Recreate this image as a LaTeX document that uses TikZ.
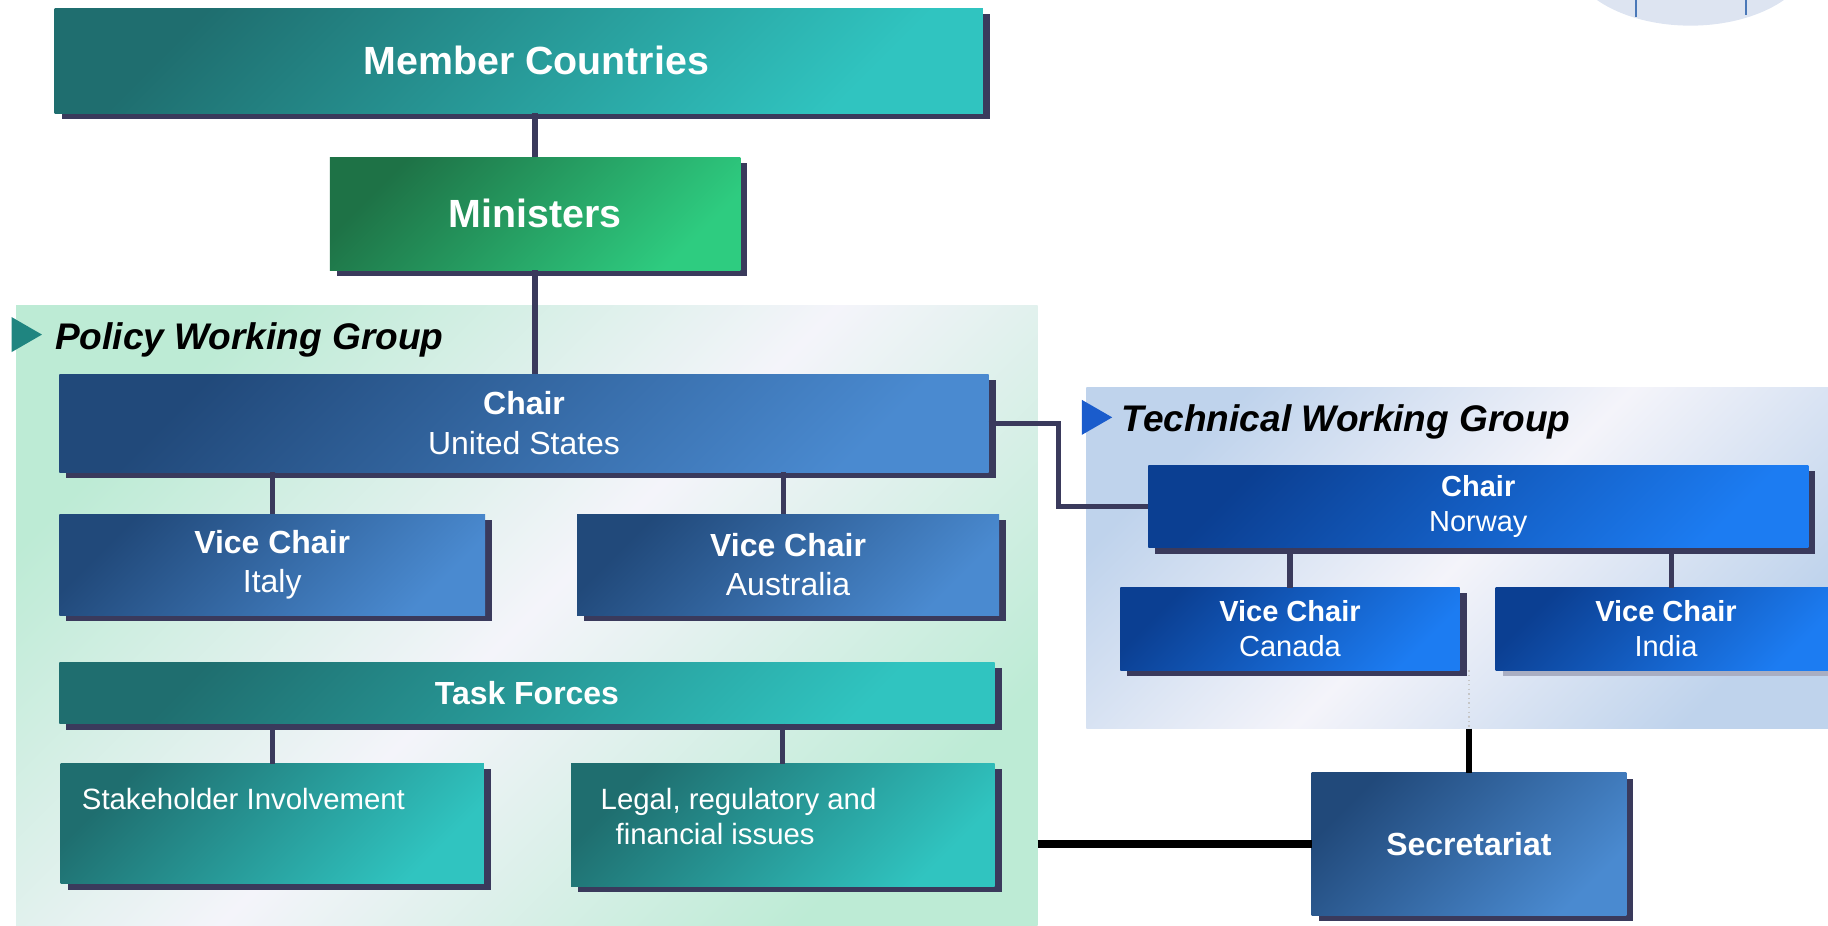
\documentclass[tikz,border=0pt]{standalone}
\usepackage{fontspec}
\setmainfont{Liberation Sans}
\usetikzlibrary{shadows}

\definecolor{tealdark}{HTML}{1F6E6F}
\definecolor{teallight}{HTML}{30C4C0}
\definecolor{greendark}{HTML}{1E7246}
\definecolor{greenlight}{HTML}{2ECC80}
\definecolor{steeldark}{HTML}{21497A}
\definecolor{steellight}{HTML}{4A8AD0}
\definecolor{bluedark}{HTML}{0B3F92}
\definecolor{bluelight}{HTML}{1C7CF2}
\definecolor{mint}{HTML}{BDEBD5}
\definecolor{paleblue}{HTML}{BFD3EC}
\definecolor{haze}{HTML}{F4F4FA}
\definecolor{navyline}{HTML}{3A3A5C}
\definecolor{greyshadow}{HTML}{A9AEC2}
\definecolor{tealmark}{HTML}{1F8580}
\definecolor{bluemark}{HTML}{1A5CCC}
\definecolor{globe}{HTML}{DDE4F1}
\definecolor{globeline}{HTML}{4A78B8}

\newcommand{\fontHead}{\fontsize{24}{29}\selectfont\bfseries}
\newcommand{\fontTitle}{\fontsize{22.6}{27}\selectfont\bfseries\itshape}
\newcommand{\fontPwg}{\fontsize{19.5}{24}\selectfont}
\newcommand{\fontTwg}{\fontsize{17.7}{21.3}\selectfont}
\newcommand{\fontTask}{\fontsize{17.9}{21.3}\selectfont}

\begin{document}
\begin{tikzpicture}[x=0.025cm, y=-0.025cm,
    box/.style={rectangle, inner sep=0pt, outer sep=0pt, text=white, align=center,
      drop shadow={shadow xshift=0.15cm, shadow yshift=-0.125cm, fill=#1, opacity=1}},
    box/.default=navyline,
    tealbox/.style={box, top color=tealdark, bottom color=teallight, shading angle=45},
    greenbox/.style={box, top color=greendark, bottom color=greenlight, shading angle=45},
    steelbox/.style={box, top color=steeldark, bottom color=steellight, shading angle=45},
    bluebox/.style={box=#1, top color=bluedark, bottom color=bluelight, shading angle=45},
    bluebox/.default=navyline,
    pwgpanel/.style={rectangle, inner sep=0pt, outer sep=0pt,
      top color=mint, bottom color=mint, middle color=haze, shading angle=45},
    twgpanel/.style={rectangle, inner sep=0pt, outer sep=0pt,
      top color=paleblue, bottom color=paleblue, middle color=haze, shading angle=45},
    title/.style={font=\fontTitle, inner sep=0pt},
    line/.style={navyline, line width=3.2pt}]

  \useasboundingbox (0,0) rectangle (1568,794);
  \clip (0,0) rectangle (1568,794);

  \node[pwgpanel, minimum width=21.9cm, minimum height=13.4cm] (pwg) at (452,530) {};
  \node[twgpanel, minimum width=16.2cm, minimum height=7.325cm] (twg) at (1256,478.5) {};

  \fill[tealmark] (10,272) -- (10,302) -- (36,287) -- cycle;
  \fill[bluemark] (928,343) -- (928,373) -- (954,358) -- cycle;
  \node[title, anchor=base west] (pwgtitle) at (47,300) {Policy Working Group};
  \node[title, anchor=base west] (twgtitle) at (962,370) {Technical Working Group};

  \node[tealbox, font=\fontHead, minimum width=19.9cm, minimum height=2.25cm]
    (countries) at (445,52) {\hspace*{0.75cm}Member Countries};
  \node[greenbox, font=\fontHead, minimum width=8.8cm, minimum height=2.425cm]
    (ministers) at (459,183.5) {Ministers};

  \node[steelbox, font=\fontPwg, minimum width=19.925cm, minimum height=2.1cm]
    (pwgchair) at (449.5,363) {\textbf{Chair}\\United States};
  \node[steelbox, font=\fontPwg, minimum width=9.125cm, minimum height=2.175cm]
    (italy) at (233.5,484.5) {\textbf{Vice Chair}\\Italy};
  \node[steelbox, font=\fontPwg, minimum width=9.05cm, minimum height=2.175cm]
    (australia) at (676,484.5) {\textbf{Vice Chair}\\Australia};

  \node[tealbox, font=\fontPwg\bfseries, minimum width=20.05cm, minimum height=1.325cm]
    (taskforces) at (452,594.5) {Task Forces};
  \node[tealbox, minimum width=9.075cm, minimum height=2.575cm] (stakeholder) at (233.5,706.5) {};
  \node[tealbox, minimum width=9.075cm, minimum height=2.625cm] (legal) at (671.5,707.5) {};
  \node[font=\fontTask, text=white, inner sep=0pt, anchor=west] (stakeholdertext) at (70,685)
    {Stakeholder Involvement};
  \node[font=\fontTask, text=white, inner sep=0pt, anchor=west, align=left] (legaltext) at (515,700)
    {Legal, regulatory and\\\hspace*{0.32cm}financial issues};

  \node[bluebox, font=\fontTwg, minimum width=14.15cm, minimum height=1.775cm]
    (twgchair) at (1268,434.5) {\textbf{Chair}\\Norway};
  \node[bluebox, font=\fontTwg, minimum width=7.275cm, minimum height=1.775cm]
    (canada) at (1106.5,539.5) {\textbf{Vice Chair}\\Canada};
  \node[bluebox=greyshadow, font=\fontTwg, minimum width=7.3cm, minimum height=1.775cm]
    (india) at (1429,539.5) {\textbf{Vice Chair}\\India};

  \node[steelbox, font=\fontPwg\bfseries, minimum width=6.75cm, minimum height=3.05cm]
    (secretariat) at (1260,724) {Secretariat};

  \draw[line] (ministers.north |- countries.south) -- (ministers.north);
  \draw[line] (ministers.south) -- (ministers.south |- pwgchair.north);
  \draw[line] (pwgchair.east) -- ++(60,0) |- (twgchair.west);
  \draw[line] (italy.north |- pwgchair.south) -- (italy.north);
  \draw[line] ([xshift=-0.1cm]australia.north |- pwgchair.south) -- ([xshift=-0.1cm]australia.north);
  \draw[line] (stakeholder.north |- taskforces.south) -- (stakeholder.north);
  \draw[line] (legal.north |- taskforces.south) -- (legal.north);
  \draw[line] (canada.north |- twgchair.south) -- (canada.north);
  \draw[line] ([xshift=0.12cm]india.north |- twgchair.south) -- ([xshift=0.12cm]india.north);

  \draw[gray!45, dotted, line width=0.8pt] (secretariat.north |- canada.south) -- (secretariat.north |- twg.south);
  \draw[black, line width=3.4pt] (secretariat.north |- twg.south) -- (secretariat.north);
  \draw[black, line width=4.8pt] (pwg.east |- secretariat.west) -- (secretariat.west);

  \fill[globe] (1450,-40) ellipse [x radius=105, y radius=62];
  \draw[globeline, line width=1.2pt] (1403,0) -- (1403,15);
  \draw[globeline, line width=1.2pt] (1498,0) -- (1498,13);

\end{tikzpicture}
\end{document}
